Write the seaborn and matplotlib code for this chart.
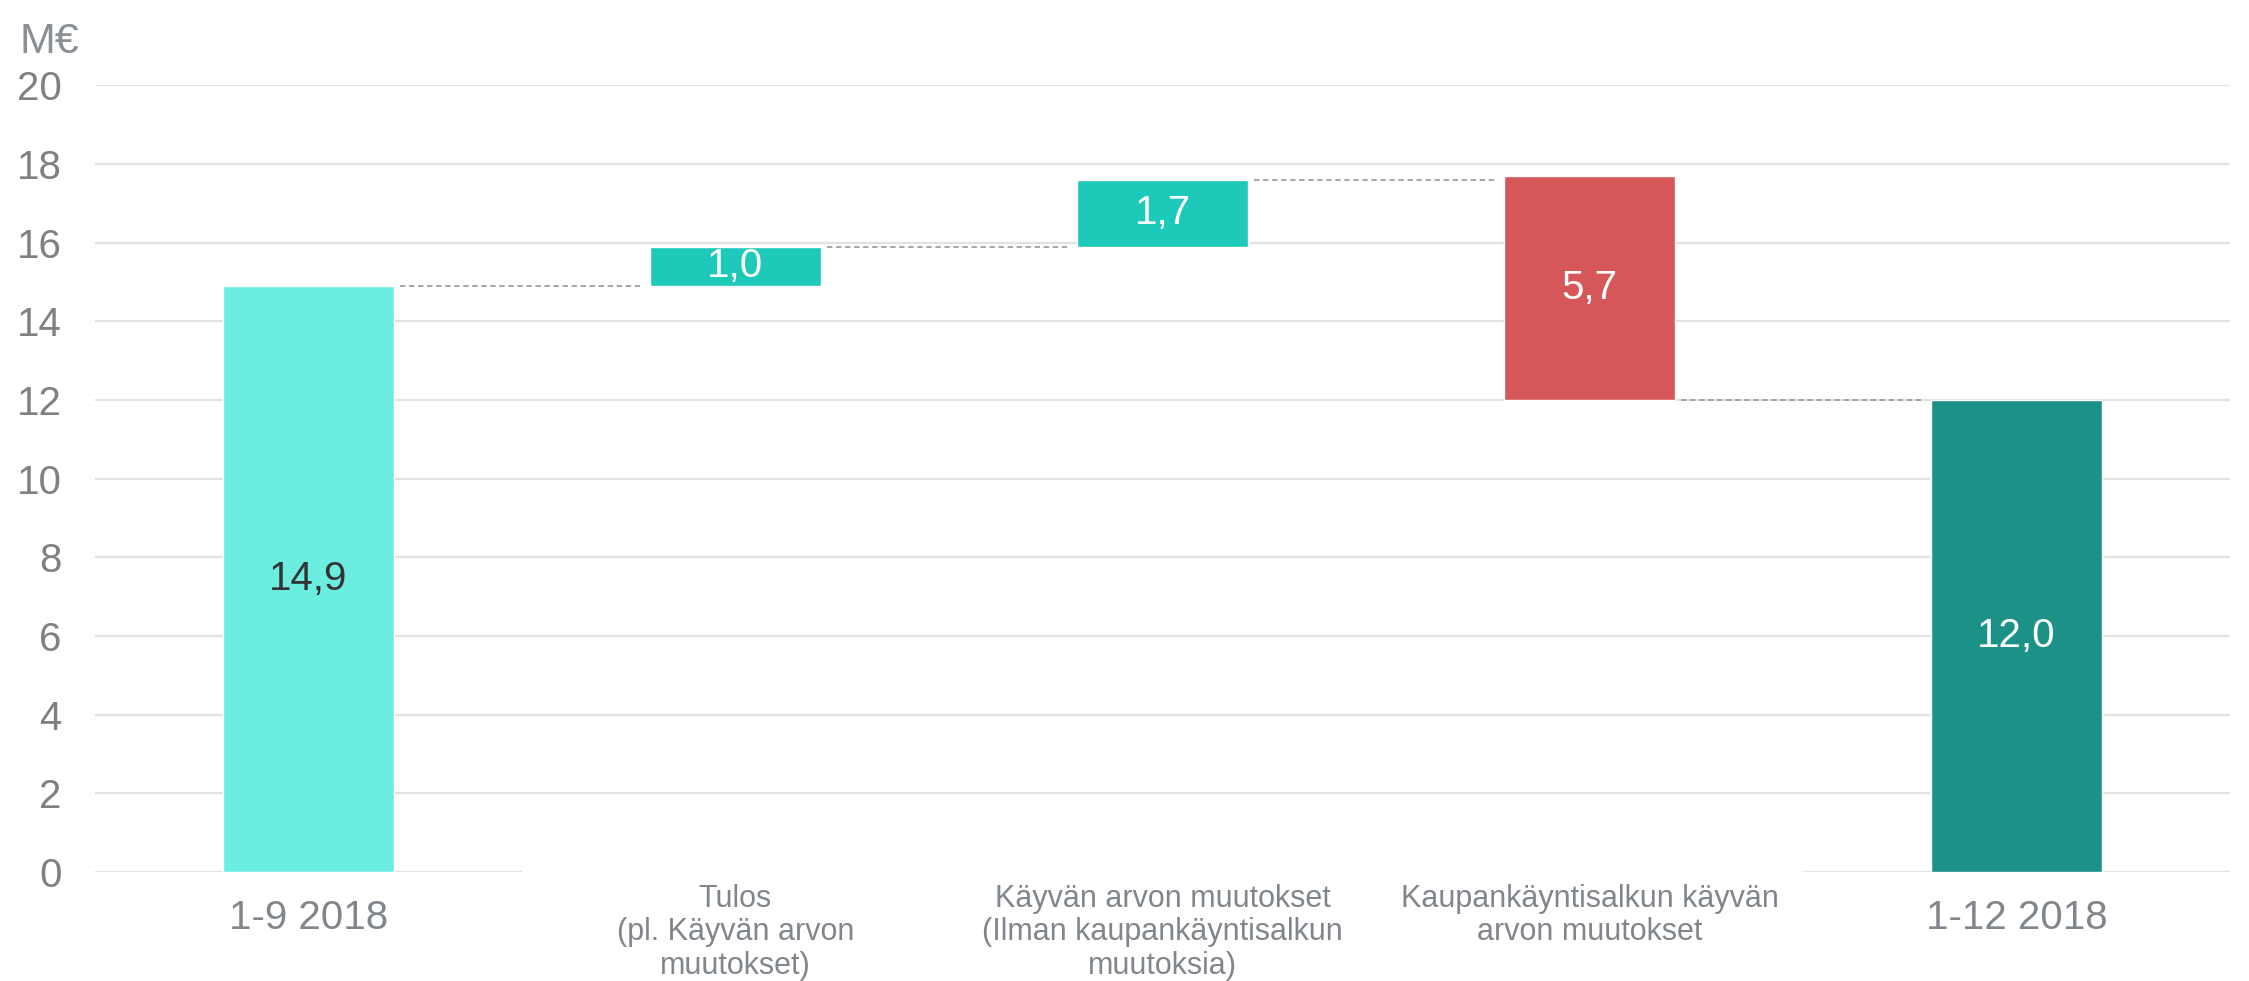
import numpy as np
import pandas as pd
import seaborn as sns
import matplotlib.pyplot as plt

# waterfall data (M€)
categories = ["1-9 2018",
              "Tulos\n(pl. Käyvän arvon\nmuutokset)",
              "Käyvän arvon muutokset\n(Ilman kaupankäyntisalkun\nmuutoksia)",
              "Kaupankäyntisalkun käyvän\narvon muutokset",
              "1-12 2018"]
start_value = 14.9
changes = [1.0, 1.7, -5.7]
end_value = 12.0
value_labels = ["14,9", "1,0", "1,7", "5,7", "12,0"]
yticks = [0, 2, 4, 6, 8, 10, 12, 14, 16, 18, 20]

# colours
c_start = "#6BEDE0"
c_up = "#1DC9B8"
c_down = "#D65759"
c_end = "#1B9187"
grid_c = "#E2E2E2"
text_c = "#80868C"

sns.set_theme(style="white")
plt.rcParams['font.family'] = ['Liberation Sans', 'DejaVu Sans']

# bar geometry: increases float on the running total, the decrease sits on the end value
bottoms = [0, start_value, start_value + changes[0], end_value, 0]
heights = [start_value, changes[0], changes[1], abs(changes[2]), end_value]
colors = [c_start, c_up, c_up, c_down, c_end]
df = pd.DataFrame({"cat": categories, "bottom": bottoms, "height": heights,
                   "label": value_labels})
df["x"] = np.arange(len(df))

fig = plt.figure(figsize=(22.49, 9.81), dpi=100)
ax = fig.add_axes([0.0422, 0.111, 0.9494, 0.802])

# grid lines (zero line only below the first and last bar)
for t in yticks[1:]:
    ax.axhline(t, color=grid_c, lw=1.6, zorder=0)
ax.hlines(0, -0.5, 0.5, color=grid_c, lw=1.6, zorder=0)
ax.hlines(0, 3.5, 4.5, color=grid_c, lw=1.6, zorder=0)

w = 0.4
ax.bar(df["x"], df["height"], bottom=df["bottom"], width=w, color=colors, zorder=2)

# connectors
levels = [start_value, start_value + changes[0], start_value + changes[0] + changes[1], end_value]
for i, lv in enumerate(levels):
    ax.hlines(lv, i + w / 2 + 0.015, i + 1 - w / 2 - 0.02, color="#9AA0A6",
              lw=1.3, linestyles=(0, (3, 2)), zorder=1)

# value labels
for i, r in df.iterrows():
    col = "#333333" if i == 0 else "white"
    ax.text(r["x"], r["bottom"] + r["height"] / 2, r["label"], ha="center",
            va="center", fontsize=29, color=col, zorder=3)

ax.set_xlim(-0.5, 4.5)
ax.set_ylim(0, 20)
ax.set_yticks(yticks)
ax.set_yticklabels([str(t) for t in yticks], fontsize=29, color="#808080")
ax.set_xticks([])
xtr = ax.get_xaxis_transform()
for i, r in df.iterrows():
    if i in (0, 4):
        ax.text(r["x"], -0.0585, r["cat"], transform=xtr, ha="center", va="center",
                fontsize=29, color=text_c)
    else:
        ax.text(r["x"], -0.015, r["cat"], transform=xtr, ha="center", va="top",
                fontsize=22, color=text_c, linespacing=1.15)
ax.tick_params(axis="y", length=0, pad=24)
for s in ax.spines.values():
    s.set_visible(False)
ax.set_xlabel("")
ax.set_ylabel("")

fig.text(0.0085, 0.957, "M€", fontsize=31, color="#8A8F96", ha="left", va="center")

fig.savefig("out.png", dpi=100)
